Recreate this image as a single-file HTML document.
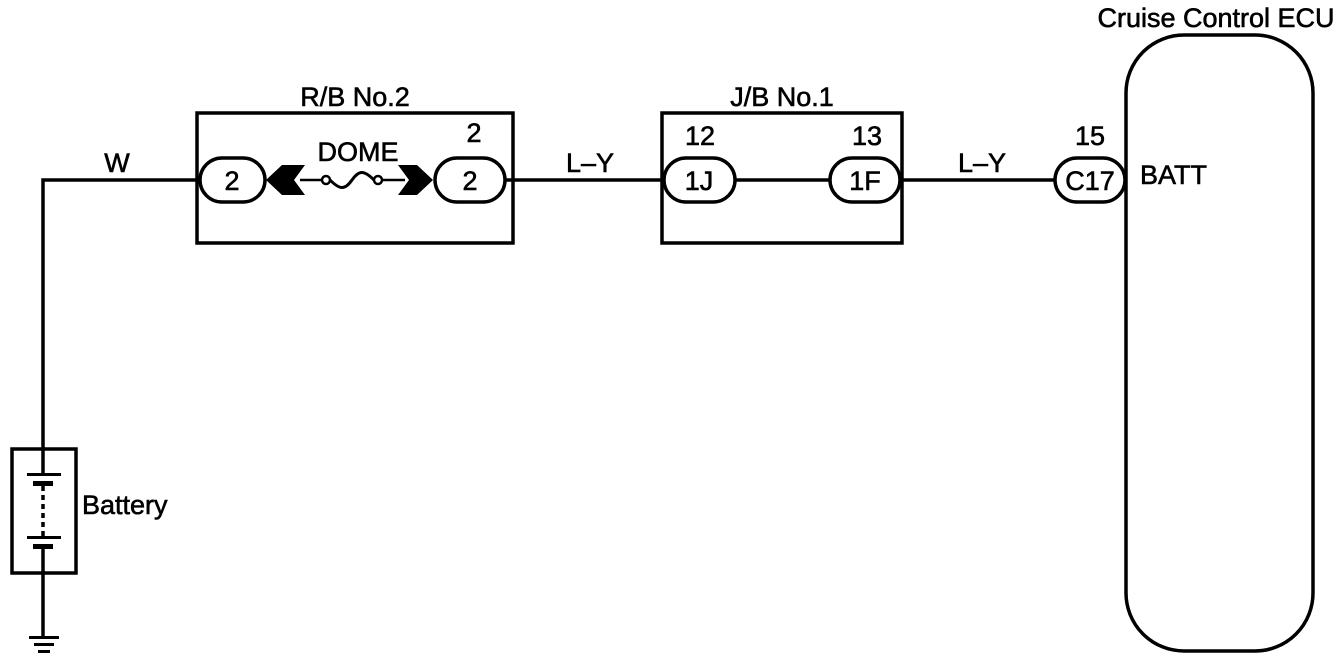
<!DOCTYPE html>
<html><head><meta charset="utf-8"><style>
html,body{margin:0;padding:0;background:#fff;}
svg{display:block;}
text{font-family:"Liberation Sans",Arial,sans-serif;font-size:27px;fill:#000;stroke:#000;stroke-width:0.6px;}
</style></head><body>
<svg width="1344" height="660" viewBox="0 0 1344 660" xmlns="http://www.w3.org/2000/svg">
<g fill="none" stroke="#000" stroke-width="3.5">
<polyline points="200,180 43,180 43,449"/>
<line x1="43" y1="573" x2="43" y2="637"/>
<line x1="505" y1="180" x2="664" y2="180"/>
<line x1="735" y1="180" x2="830" y2="180"/>
<line x1="900" y1="180" x2="1055" y2="180"/>
<rect x="197" y="113" width="316" height="130"/>
<rect x="200" y="158" width="65" height="44" rx="22"/>
<rect x="435" y="158" width="70" height="44" rx="22"/>
<rect x="662" y="113" width="240" height="130"/>
<rect x="664" y="158" width="71" height="44" rx="22"/>
<rect x="830" y="158" width="70" height="44" rx="22"/>
<rect x="1055" y="158" width="70" height="44" rx="22"/>
<rect x="1126" y="35" width="187" height="616" rx="58"/>
<rect x="12" y="449" width="64" height="124"/>
<line x1="43" y1="449" x2="43" y2="474"/>
<line x1="43" y1="546" x2="43" y2="573"/>
<line x1="43" y1="486" x2="43" y2="537" stroke-dasharray="5,4"/>
<line x1="300" y1="180" x2="322" y2="180" stroke-width="2.5"/>
<line x1="382" y1="180" x2="405" y2="180" stroke-width="2.5"/>
<circle cx="326" cy="180" r="4" stroke-width="2.5"/>
<circle cx="378" cy="180" r="4" stroke-width="2.5"/>
<path d="M330,180 C340,190 345,190 352,180 C359,170 364,170 374,180" stroke-width="3"/>
</g>
<g fill="#000">
<polygon points="266,180 282,165 305,165 294,180 305,195 282,195"/>
<polygon points="433,180 417,165 398,165 409,180 398,195 417,195"/>
<rect x="27" y="473" width="34" height="3"/>
<rect x="33" y="481" width="20" height="5"/>
<rect x="27" y="536" width="34" height="3"/>
<rect x="33" y="544" width="20" height="5"/>
<rect x="29" y="636" width="30" height="3"/>
<rect x="34" y="643" width="20" height="3"/>
<rect x="38" y="650" width="12" height="3"/>
</g>
<text x="117" y="172" text-anchor="middle">W</text>
<text x="355" y="106" text-anchor="middle">R/B No.2</text>
<text x="358" y="161" text-anchor="middle">DOME</text>
<text x="232" y="190" text-anchor="middle">2</text>
<text x="470" y="190" text-anchor="middle">2</text>
<text x="474" y="142" text-anchor="middle">2</text>
<text x="590" y="172" text-anchor="middle">L–Y</text>
<text x="782" y="106" text-anchor="middle">J/B No.1</text>
<text x="700" y="145" text-anchor="middle">12</text>
<text x="867" y="145" text-anchor="middle">13</text>
<text x="699" y="190" text-anchor="middle">1J</text>
<text x="865" y="190" text-anchor="middle">1F</text>
<text x="982" y="172" text-anchor="middle">L–Y</text>
<text x="1090" y="145" text-anchor="middle">15</text>
<text x="1090" y="190" text-anchor="middle">C17</text>
<text x="1140" y="184">BATT</text>
<text x="1216" y="27" text-anchor="middle">Cruise Control ECU</text>
<text x="82" y="514">Battery</text>
</svg>
</body></html>
